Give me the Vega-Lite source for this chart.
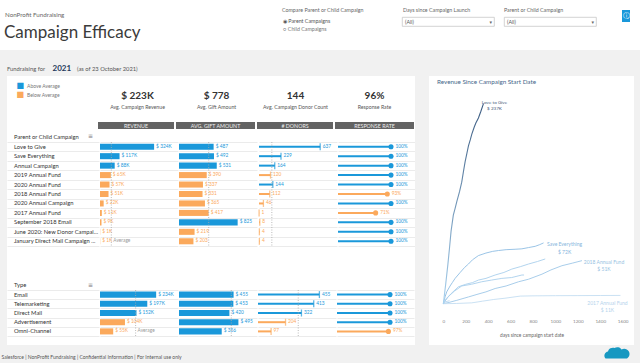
{
  "$schema": "https://vega.github.io/schema/vega-lite/v6.json",
  "background": "white",
  "padding": 0,
  "spacing": 0,
  "config": {
    "view": {"stroke": null},
    "font": "Lato",
    "concat": {"spacing": 0},
    "locale": {"number": {"decimal": ".", "thousands": ",", "grouping": [3], "currency": ["$ ", ""]}},
    "axis": {"labelFont": "Lato", "titleFont": "Lato"},
    "text": {"font": "Lato"}
  },
  "resolve": {"scale": {"x": "independent", "y": "independent"}},
  "datasets": {
    "campaigns": [
      {"name": "Love to Give", "revenue": 324, "rev_lbl": "$ 324K", "rev_s": "Above Average", "gift": 487, "gift_s": "Above Average", "donors": 637, "don_s": "Above Average", "rate": 1, "rate_s": "Above Average"},
      {"name": "Save Everything", "revenue": 117, "rev_lbl": "$ 117K", "rev_s": "Above Average", "gift": 492, "gift_s": "Above Average", "donors": 229, "don_s": "Above Average", "rate": 1, "rate_s": "Above Average"},
      {"name": "Annual Campaign", "revenue": 88, "rev_lbl": "$ 88K", "rev_s": "Above Average", "gift": 531, "gift_s": "Above Average", "donors": 164, "don_s": "Above Average", "rate": 1, "rate_s": "Above Average"},
      {"name": "2019 Annual Fund", "revenue": 65, "rev_lbl": "$ 65K", "rev_s": "Below Average", "gift": 390, "gift_s": "Below Average", "donors": 120, "don_s": "Below Average", "rate": 1, "rate_s": "Above Average"},
      {"name": "2020 Annual Fund", "revenue": 57, "rev_lbl": "$ 57K", "rev_s": "Below Average", "gift": 337, "gift_s": "Below Average", "donors": 144, "don_s": "Above Average", "rate": 1, "rate_s": "Above Average"},
      {"name": "2018 Annual Fund", "revenue": 51, "rev_lbl": "$ 51K", "rev_s": "Below Average", "gift": 331, "gift_s": "Below Average", "donors": 112, "don_s": "Below Average", "rate": 0.93, "rate_s": "Below Average"},
      {"name": "2020 Annual Campaign", "revenue": 22, "rev_lbl": "$ 22K", "rev_s": "Below Average", "gift": 365, "gift_s": "Below Average", "donors": 46, "don_s": "Below Average", "rate": 1, "rate_s": "Above Average"},
      {"name": "2017 Annual Fund", "revenue": 11, "rev_lbl": "$ 11K", "rev_s": "Below Average", "gift": 417, "gift_s": "Below Average", "donors": 1, "don_s": "Below Average", "rate": 0.71, "rate_s": "Below Average"},
      {"name": "September 2018 Email", "revenue": 9, "rev_lbl": "$ 9K", "rev_s": "Below Average", "gift": 825, "gift_s": "Above Average", "donors": 8, "don_s": "Below Average", "rate": 1, "rate_s": "Above Average"},
      {"name": "June 2020: New Donor Campaign", "revenue": 1, "rev_lbl": "$ 1K", "rev_s": "Below Average", "gift": 219, "gift_s": "Below Average", "donors": 4, "don_s": "Below Average", "rate": 1, "rate_s": "Above Average"},
      {"name": "January Direct Mail Campaign ...", "revenue": 1, "rev_lbl": "$ 1K", "rev_s": "Below Average", "gift": 203, "gift_s": "Below Average", "donors": 4, "don_s": "Below Average", "rate": 1, "rate_s": "Above Average"}
    ],
    "types": [
      {"name": "Email", "revenue": 234, "rev_lbl": "$ 234K", "rev_s": "Above Average", "gift": 455, "gift_s": "Above Average", "donors": 455, "don_s": "Above Average", "rate": 1, "rate_s": "Above Average"},
      {"name": "Telemarketing", "revenue": 197, "rev_lbl": "$ 197K", "rev_s": "Above Average", "gift": 453, "gift_s": "Above Average", "donors": 413, "don_s": "Above Average", "rate": 1, "rate_s": "Above Average"},
      {"name": "Direct Mail", "revenue": 152, "rev_lbl": "$ 152K", "rev_s": "Above Average", "gift": 420, "gift_s": "Above Average", "donors": 322, "don_s": "Above Average", "rate": 1, "rate_s": "Above Average"},
      {"name": "Advertisement", "revenue": 104, "rev_lbl": "$ 104K", "rev_s": "Below Average", "gift": 495, "gift_s": "Above Average", "donors": 204, "don_s": "Below Average", "rate": 1, "rate_s": "Above Average"},
      {"name": "Omni-Channel", "revenue": 55, "rev_lbl": "$ 55K", "rev_s": "Below Average", "gift": 356, "gift_s": "Above Average", "donors": 97, "don_s": "Below Average", "rate": 0.97, "rate_s": "Below Average"}
    ],
    "kpis": [
      {"kpi": "Avg. Campaign Revenue", "value": "$ 223K"},
      {"kpi": "Avg. Gift Amount", "value": "$ 778"},
      {"kpi": "Avg. Campaign Donor Count", "value": "144"},
      {"kpi": "Response Rate", "value": "96%"}
    ],
    "legend": [{"status": "Above Average"}, {"status": "Below Average"}],
    "curves": [
      {"campaign": "Love to Give", "days": 0, "rev": 0},
      {"campaign": "Love to Give", "days": 20, "rev": 22},
      {"campaign": "Love to Give", "days": 40, "rev": 46},
      {"campaign": "Love to Give", "days": 55, "rev": 66},
      {"campaign": "Love to Give", "days": 69, "rev": 86},
      {"campaign": "Love to Give", "days": 89, "rev": 105},
      {"campaign": "Love to Give", "days": 105, "rev": 113},
      {"campaign": "Love to Give", "days": 120, "rev": 121},
      {"campaign": "Love to Give", "days": 145, "rev": 133},
      {"campaign": "Love to Give", "days": 164, "rev": 144},
      {"campaign": "Love to Give", "days": 180, "rev": 157},
      {"campaign": "Love to Give", "days": 194, "rev": 168},
      {"campaign": "Love to Give", "days": 210, "rev": 178},
      {"campaign": "Love to Give", "days": 224, "rev": 187},
      {"campaign": "Love to Give", "days": 240, "rev": 194},
      {"campaign": "Love to Give", "days": 254, "rev": 201},
      {"campaign": "Love to Give", "days": 275, "rev": 209},
      {"campaign": "Love to Give", "days": 290, "rev": 214},
      {"campaign": "Love to Give", "days": 313, "rev": 220},
      {"campaign": "Love to Give", "days": 335, "rev": 228},
      {"campaign": "Love to Give", "days": 358, "rev": 237},
      {"campaign": "Save Everything", "days": 0, "rev": 0},
      {"campaign": "Save Everything", "days": 15, "rev": 8},
      {"campaign": "Save Everything", "days": 30, "rev": 14},
      {"campaign": "Save Everything", "days": 60, "rev": 21},
      {"campaign": "Save Everything", "days": 80, "rev": 25},
      {"campaign": "Save Everything", "days": 105, "rev": 30},
      {"campaign": "Save Everything", "days": 150, "rev": 37},
      {"campaign": "Save Everything", "days": 190, "rev": 43},
      {"campaign": "Save Everything", "days": 224, "rev": 47},
      {"campaign": "Save Everything", "days": 260, "rev": 52},
      {"campaign": "Save Everything", "days": 313, "rev": 57},
      {"campaign": "Save Everything", "days": 380, "rev": 60},
      {"campaign": "Save Everything", "days": 440, "rev": 62},
      {"campaign": "Save Everything", "days": 492, "rev": 63},
      {"campaign": "Save Everything", "days": 560, "rev": 64},
      {"campaign": "Save Everything", "days": 640, "rev": 64.5},
      {"campaign": "Save Everything", "days": 701, "rev": 65},
      {"campaign": "Save Everything", "days": 760, "rev": 66.5},
      {"campaign": "Save Everything", "days": 820, "rev": 68},
      {"campaign": "Save Everything", "days": 860, "rev": 70},
      {"campaign": "Save Everything", "days": 894, "rev": 72},
      {"campaign": "2020 Annual Fund", "days": 0, "rev": 0},
      {"campaign": "2020 Annual Fund", "days": 30, "rev": 6},
      {"campaign": "2020 Annual Fund", "days": 70, "rev": 12},
      {"campaign": "2020 Annual Fund", "days": 134, "rev": 20},
      {"campaign": "2020 Annual Fund", "days": 200, "rev": 23},
      {"campaign": "2020 Annual Fund", "days": 260, "rev": 25},
      {"campaign": "2020 Annual Fund", "days": 313, "rev": 28},
      {"campaign": "2020 Annual Fund", "days": 380, "rev": 30},
      {"campaign": "2020 Annual Fund", "days": 462, "rev": 34},
      {"campaign": "2020 Annual Fund", "days": 540, "rev": 37},
      {"campaign": "2020 Annual Fund", "days": 611, "rev": 41},
      {"campaign": "2020 Annual Fund", "days": 690, "rev": 44},
      {"campaign": "2020 Annual Fund", "days": 760, "rev": 47},
      {"campaign": "2020 Annual Fund", "days": 840, "rev": 50},
      {"campaign": "2020 Annual Fund", "days": 909, "rev": 53},
      {"campaign": "2020 Annual Campaign", "days": 0, "rev": 0},
      {"campaign": "2020 Annual Campaign", "days": 40, "rev": 8},
      {"campaign": "2020 Annual Campaign", "days": 100, "rev": 15},
      {"campaign": "2020 Annual Campaign", "days": 164, "rev": 21},
      {"campaign": "2020 Annual Campaign", "days": 250, "rev": 23},
      {"campaign": "2020 Annual Campaign", "days": 343, "rev": 26},
      {"campaign": "2020 Annual Campaign", "days": 430, "rev": 28},
      {"campaign": "2020 Annual Campaign", "days": 522, "rev": 30},
      {"campaign": "2020 Annual Campaign", "days": 610, "rev": 31},
      {"campaign": "2020 Annual Campaign", "days": 701, "rev": 34},
      {"campaign": "2020 Annual Campaign", "days": 720, "rev": 34},
      {"campaign": "2018 Annual Fund", "days": 0, "rev": 0},
      {"campaign": "2018 Annual Fund", "days": 50, "rev": 1.5},
      {"campaign": "2018 Annual Fund", "days": 120, "rev": 4},
      {"campaign": "2018 Annual Fund", "days": 224, "rev": 8},
      {"campaign": "2018 Annual Fund", "days": 300, "rev": 11},
      {"campaign": "2018 Annual Fund", "days": 380, "rev": 14},
      {"campaign": "2018 Annual Fund", "days": 462, "rev": 18},
      {"campaign": "2018 Annual Fund", "days": 560, "rev": 21},
      {"campaign": "2018 Annual Fund", "days": 671, "rev": 26},
      {"campaign": "2018 Annual Fund", "days": 760, "rev": 29},
      {"campaign": "2018 Annual Fund", "days": 880, "rev": 35},
      {"campaign": "2018 Annual Fund", "days": 960, "rev": 40},
      {"campaign": "2018 Annual Fund", "days": 1058, "rev": 45},
      {"campaign": "2018 Annual Fund", "days": 1150, "rev": 48},
      {"campaign": "2018 Annual Fund", "days": 1237, "rev": 51},
      {"campaign": "2017 Annual Fund", "days": 0, "rev": 0},
      {"campaign": "2017 Annual Fund", "days": 120, "rev": 0.3},
      {"campaign": "2017 Annual Fund", "days": 254, "rev": 1},
      {"campaign": "2017 Annual Fund", "days": 350, "rev": 3},
      {"campaign": "2017 Annual Fund", "days": 450, "rev": 5},
      {"campaign": "2017 Annual Fund", "days": 550, "rev": 6.5},
      {"campaign": "2017 Annual Fund", "days": 686, "rev": 9},
      {"campaign": "2017 Annual Fund", "days": 800, "rev": 9.3},
      {"campaign": "2017 Annual Fund", "days": 1000, "rev": 9.5},
      {"campaign": "2017 Annual Fund", "days": 1200, "rev": 9.6},
      {"campaign": "2017 Annual Fund", "days": 1400, "rev": 9.7},
      {"campaign": "2017 Annual Fund", "days": 1580, "rev": 9.8},
      {"campaign": "September 2018 Email", "days": 0, "rev": 0},
      {"campaign": "September 2018 Email", "days": 10, "rev": 4},
      {"campaign": "September 2018 Email", "days": 25, "rev": 6},
      {"campaign": "September 2018 Email", "days": 35, "rev": 7},
      {"campaign": "June 2020: New Donor Campaign", "days": 0, "rev": 0},
      {"campaign": "June 2020: New Donor Campaign", "days": 15, "rev": 2},
      {"campaign": "June 2020: New Donor Campaign", "days": 40, "rev": 3},
      {"campaign": "June 2020: New Donor Campaign", "days": 55, "rev": 3.5}
    ],
    "curve_labels": [
      {"campaign": "Love to Give", "days": 358, "rev": 237, "label": "Love to Give\n$ 237K"},
      {"campaign": "Save Everything", "days": 894, "rev": 72, "label": "Save Everything\n$ 72K"},
      {"campaign": "2018 Annual Fund", "days": 1237, "rev": 51, "label": "2018 Annual Fund\n$ 51K"},
      {"campaign": "2017 Annual Fund", "days": 1580, "rev": 9.8, "label": "2017 Annual Fund\n$ 11K"}
    ]
  },
  "vconcat": [
    {
      "hconcat": [
        {
          "width": 278, "height": 50,
          "data": {"values": [{"a": "NonProfit Fundraising", "b": "Campaign Efficacy"}]},
          "encoding": {"x": {"datum": 0, "type": "quantitative", "scale": {"domain": [0, 1], "nice": false}, "axis": null}},
          "layer": [
            {"mark": {"type": "text", "align": "left", "baseline": "middle", "dx": 5, "dy": -10, "fontSize": 6.2, "color": "#666"}, "encoding": {"text": {"field": "a", "type": "nominal"}}},
            {"mark": {"type": "text", "align": "left", "baseline": "middle", "dx": 4, "dy": 8, "fontSize": 17, "color": "#3b3b3b"}, "encoding": {"text": {"field": "b", "type": "nominal"}}}
          ]
        },
        {
          "width": 123, "height": 50,
          "data": {"values": [{"t": "Compare Parent or Child Campaign", "p": "◉  Parent Campaigns", "c": "○  Child Campaigns"}]},
          "encoding": {"x": {"datum": 0, "type": "quantitative", "scale": {"domain": [0, 1], "nice": false}, "axis": null}},
          "layer": [
            {"mark": {"type": "text", "align": "left", "baseline": "middle", "dx": 4, "dy": -15, "fontSize": 5.3, "color": "#666"}, "encoding": {"text": {"field": "t", "type": "nominal"}}},
            {"mark": {"type": "text", "align": "left", "baseline": "middle", "dx": 5, "dy": -4.3, "fontSize": 5.3, "color": "#555"}, "encoding": {"text": {"field": "p", "type": "nominal"}}},
            {"mark": {"type": "text", "align": "left", "baseline": "middle", "dx": 5, "dy": 4, "fontSize": 5.3, "color": "#777"}, "encoding": {"text": {"field": "c", "type": "nominal"}}}
          ]
        },
        {
          "vconcat": [
            {
              "width": 101, "height": 16,
              "data": {"values": [{"t": "Days since Campaign Launch"}]},
              "mark": {"type": "text", "align": "left", "baseline": "middle", "dx": 1, "dy": 2, "fontSize": 5.3, "color": "#666"},
              "encoding": {"x": {"datum": 0, "type": "quantitative", "scale": {"domain": [0, 1], "nice": false}, "axis": null}, "text": {"field": "t", "type": "nominal"}}
            },
            {
              "width": 92, "height": 9,
              "view": {"stroke": "#c8c8c8", "strokeWidth": 0.8},
              "data": {"values": [{"t": "(All)", "arrow": "▾"}]},
              "layer": [
                {"mark": {"type": "text", "align": "left", "baseline": "middle", "dx": 3, "fontSize": 5.3, "color": "#555"}, "encoding": {"x": {"datum": 0, "type": "quantitative", "scale": {"domain": [0, 1], "nice": false}, "axis": null}, "text": {"field": "t", "type": "nominal"}}},
                {"mark": {"type": "text", "align": "right", "baseline": "middle", "dx": -2, "fontSize": 5, "color": "#666", "font": "DejaVu Sans"}, "encoding": {"x": {"datum": 1, "type": "quantitative", "scale": {"domain": [0, 1], "nice": false}, "axis": null}, "text": {"field": "arrow", "type": "nominal"}}}
              ]
            }
          ],
          "spacing": 0
        },
        {
          "vconcat": [
            {
              "width": 118, "height": 16,
              "data": {"values": [{"t": "Parent or Child Campaign"}]},
              "mark": {"type": "text", "align": "left", "baseline": "middle", "dx": 0, "dy": 2, "fontSize": 5.3, "color": "#666"},
              "encoding": {"x": {"datum": 0, "type": "quantitative", "scale": {"domain": [0, 1], "nice": false}, "axis": null}, "text": {"field": "t", "type": "nominal"}}
            },
            {
              "width": 92, "height": 9,
              "view": {"stroke": "#c8c8c8", "strokeWidth": 0.8},
              "data": {"values": [{"t": "(All)", "arrow": "▾"}]},
              "layer": [
                {"mark": {"type": "text", "align": "left", "baseline": "middle", "dx": 3, "fontSize": 5.3, "color": "#555"}, "encoding": {"x": {"datum": 0, "type": "quantitative", "scale": {"domain": [0, 1], "nice": false}, "axis": null}, "text": {"field": "t", "type": "nominal"}}},
                {"mark": {"type": "text", "align": "right", "baseline": "middle", "dx": -2, "fontSize": 5, "color": "#666", "font": "DejaVu Sans"}, "encoding": {"x": {"datum": 1, "type": "quantitative", "scale": {"domain": [0, 1], "nice": false}, "axis": null}, "text": {"field": "arrow", "type": "nominal"}}}
              ]
            }
          ],
          "spacing": 0
        },
        {
          "vconcat": [
            {"width": 20, "height": 10, "data": {"values": [{}]}, "mark": {"type": "rect", "opacity": 0}, "encoding": {}},
            {
              "width": 8, "height": 12,
              "view": {"fill": "#1a98da"},
              "data": {"values": [{"i": "ⓘ"}]},
              "mark": {"type": "text", "baseline": "middle", "fontSize": 7, "color": "white", "font": "DejaVu Sans"},
              "encoding": {"text": {"field": "i", "type": "nominal"}}
            }
          ],
          "spacing": 0
        }
      ],
      "resolve": {"scale": {"x": "independent", "y": "independent"}}
    },
    {
      "width": 640, "height": 26,
      "view": {"fill": "#f1f1f1"},
      "data": {"values": [{"a": "Fundraising for", "b": "2021", "c": "(as of 23 October 2021)"}]},
      "encoding": {"x": {"datum": 0, "type": "quantitative", "scale": {"domain": [0, 1], "nice": false}, "axis": null}},
      "layer": [
        {"mark": {"type": "text", "align": "left", "baseline": "middle", "dx": 7, "dy": 5.7, "fontSize": 5.8, "color": "#555"}, "encoding": {"text": {"field": "a", "type": "nominal"}}},
        {"mark": {"type": "text", "align": "left", "baseline": "middle", "dx": 52.5, "dy": 5.5, "fontSize": 8, "fontWeight": "bold", "color": "#23395b"}, "encoding": {"text": {"field": "b", "type": "nominal"}}},
        {"mark": {"type": "text", "align": "left", "baseline": "middle", "dx": 77, "dy": 5.7, "fontSize": 5.8, "color": "#555"}, "encoding": {"text": {"field": "c", "type": "nominal"}}}
      ]
    },
    {
      "hconcat": [
        {"width": 7, "height": 269, "view": {"fill": "#f1f1f1"}, "data": {"values": [{}]}, "mark": {"type": "rect", "opacity": 0}, "encoding": {}},
        {
          "vconcat": [
            {
              "hconcat": [
                {
                  "width": 89, "height": 45.5,
                  "data": {"name": "legend"},
                  "encoding": {"x": {"datum": 0, "type": "quantitative", "scale": {"domain": [0, 1], "nice": false}, "axis": null}},
                  "layer": [
                    {"transform": [{"filter": "datum.status === 'Above Average'"}], "mark": {"type": "text", "text": "■", "align": "left", "baseline": "middle", "dx": 9.5, "dy": -13.25, "fontSize": 8.2, "font": "DejaVu Sans"}, "encoding": {"color": {"field": "status", "type": "nominal", "scale": {"domain": ["Above Average", "Below Average"], "range": ["#1a98da", "#fba95c"]}, "legend": null}}},
                    {"transform": [{"filter": "datum.status === 'Above Average'"}], "mark": {"type": "text", "align": "left", "baseline": "middle", "dx": 20, "dy": -13.25, "fontSize": 5, "color": "#777"}, "encoding": {"text": {"field": "status", "type": "nominal"}}},
                    {"transform": [{"filter": "datum.status === 'Below Average'"}], "mark": {"type": "text", "text": "■", "align": "left", "baseline": "middle", "dx": 9.5, "dy": -4.25, "fontSize": 8.2, "font": "DejaVu Sans"}, "encoding": {"color": {"field": "status", "type": "nominal", "scale": {"domain": ["Above Average", "Below Average"], "range": ["#1a98da", "#fba95c"]}, "legend": null}}},
                    {"transform": [{"filter": "datum.status === 'Below Average'"}], "mark": {"type": "text", "align": "left", "baseline": "middle", "dx": 20, "dy": -4.25, "fontSize": 5, "color": "#777"}, "encoding": {"text": {"field": "status", "type": "nominal"}}}
                  ]
                },
                {
                  "width": 316, "height": 45.5,
                  "data": {"name": "kpis"},
                  "encoding": {"x": {"field": "kpi", "type": "nominal", "sort": null, "scale": {"type": "point", "padding": 0.5}, "axis": null}},
                  "layer": [
                    {"mark": {"type": "text", "baseline": "middle", "dy": -3.25, "fontSize": 10, "fontWeight": "bold", "color": "#333"}, "encoding": {"text": {"field": "value", "type": "nominal"}}},
                    {"mark": {"type": "text", "baseline": "middle", "dy": 8.5, "fontSize": 5.2, "color": "#555"}, "encoding": {"text": {"field": "kpi", "type": "nominal"}}}
                  ]
                }
              ],
              "spacing": 2,
              "resolve": {"scale": {"x": "independent", "y": "independent"}}
            },
            {
              "hconcat": [
                {"width": 89, "height": 7, "data": {"values": [{}]}, "mark": {"type": "rect", "opacity": 0}, "encoding": {}},
                {"width": 76, "height": 7, "view": {"fill": "#636363"}, "data": {"values": [{"h": "REVENUE"}]}, "mark": {"type": "text", "baseline": "middle", "fontSize": 5.3, "color": "#eeeeee"}, "encoding": {"text": {"field": "h", "type": "nominal"}}},
                {"width": 79, "height": 7, "view": {"fill": "#636363"}, "data": {"values": [{"h": "AVG. GIFT AMOUNT"}]}, "mark": {"type": "text", "baseline": "middle", "fontSize": 5.3, "color": "#eeeeee"}, "encoding": {"text": {"field": "h", "type": "nominal"}}},
                {"width": 76, "height": 7, "view": {"fill": "#636363"}, "data": {"values": [{"h": "# DONORS"}]}, "mark": {"type": "text", "baseline": "middle", "fontSize": 5.3, "color": "#eeeeee"}, "encoding": {"text": {"field": "h", "type": "nominal"}}},
                {"width": 79, "height": 7, "view": {"fill": "#636363"}, "data": {"values": [{"h": "RESPONSE RATE"}]}, "mark": {"type": "text", "baseline": "middle", "fontSize": 5.3, "color": "#eeeeee"}, "encoding": {"text": {"field": "h", "type": "nominal"}}}
              ],
              "spacing": 2
            },
            {
              "width": 407, "height": 11.8,
              "data": {"values": [{"h": "Parent or Child Campaign", "icon": "≡"}]},
              "encoding": {"x": {"datum": 0, "type": "quantitative", "scale": {"domain": [0, 1], "nice": false}, "axis": null}},
              "layer": [
                {"mark": {"type": "text", "align": "left", "baseline": "middle", "dx": 7, "dy": 1.6, "fontSize": 5.8, "color": "#333"}, "encoding": {"text": {"field": "h", "type": "nominal"}}},
                {"mark": {"type": "text", "align": "left", "baseline": "middle", "dx": 81, "dy": 1.2, "fontSize": 6, "color": "#777", "font": "DejaVu Sans"}, "encoding": {"text": {"field": "icon", "type": "nominal"}}}
              ]
            },
            {
              "hconcat": [
                {
                  "width": 92, "height": 104,
                  "data": {"name": "campaigns"},
                  "encoding": {
                    "y": {"field": "name", "type": "nominal", "sort": null, "scale": {"type": "band", "paddingInner": 0, "paddingOuter": 0},
                          "axis": {"title": null, "domain": false, "ticks": false, "labels": false, "grid": true, "gridColor": "#e6e6e6", "gridWidth": 0.8, "tickBand": "extent", "minExtent": 0, "maxExtent": 0}}
                  },
                  "layer": [
                    {"mark": {"type": "text", "align": "left", "baseline": "middle", "dx": 7, "fontSize": 5.8, "color": "#333", "limit": 86},
                     "encoding": {"x": {"datum": 0, "type": "quantitative", "scale": {"domain": [0, 1], "nice": false}, "axis": null}, "text": {"field": "name", "type": "nominal"}}}
                  ]
                },
                {
                  "width": 78, "height": 104,
                  "data": {"name": "campaigns"},
                  "encoding": {
                    "y": {"field": "name", "type": "nominal", "sort": null, "scale": {"type": "band", "paddingInner": 0, "paddingOuter": 0},
                          "axis": {"title": null, "domain": false, "ticks": false, "labels": false, "grid": true, "gridColor": "#e6e6e6", "gridWidth": 0.8, "tickBand": "extent", "minExtent": 0, "maxExtent": 0}}
                  },
                  "layer": [
                    {"mark": {"type": "bar", "height": {"band": 0.64}},
                     "encoding": {
                       "x": {"field": "revenue", "type": "quantitative", "scale": {"domain": [0, 467], "nice": false}, "axis": null},
                       "color": {"field": "rev_s", "type": "nominal", "scale": {"domain": ["Above Average", "Below Average"], "range": ["#1a98da", "#fba95c"]}, "legend": null}}},
                    {"mark": {"type": "text", "align": "left", "baseline": "middle", "dx": 2, "fontSize": 4.8},
                     "encoding": {"x": {"field": "revenue", "type": "quantitative", "scale": {"domain": [0, 467], "nice": false}, "axis": null}, "text": {"field": "rev_lbl", "type": "nominal"}, "color": {"field": "rev_s", "type": "nominal", "legend": null}}},
                    {"transform": [{"aggregate": [{"op": "mean", "field": "revenue", "as": "avg_rev_c"}]}],
                     "mark": {"type": "rule", "color": "#aaaaaa", "strokeDash": [1, 1.5], "strokeWidth": 0.8},
                     "encoding": {"x": {"field": "avg_rev_c", "type": "quantitative", "scale": {"domain": [0, 467], "nice": false}, "axis": null}, "y": null}},
                    {"transform": [{"aggregate": [{"op": "mean", "field": "revenue", "as": "avg_rev_c"}]}],
                     "mark": {"type": "text", "text": "Average", "align": "left", "baseline": "middle", "dx": 2, "fontSize": 4.8, "color": "#999"},
                     "encoding": {"x": {"field": "avg_rev_c", "type": "quantitative", "scale": {"domain": [0, 467], "nice": false}, "axis": null}, "y": {"datum": "January Direct Mail Campaign ...", "type": "nominal"}}}
                  ]
                },
                {
                  "width": 78, "height": 104,
                  "data": {"name": "campaigns"},
                  "encoding": {
                    "y": {"field": "name", "type": "nominal", "sort": null, "scale": {"type": "band", "paddingInner": 0, "paddingOuter": 0},
                          "axis": {"title": null, "domain": false, "ticks": false, "labels": false, "grid": true, "gridColor": "#e6e6e6", "gridWidth": 0.8, "tickBand": "extent", "minExtent": 0, "maxExtent": 0}}
                  },
                  "layer": [
                    {"mark": {"type": "bar", "height": {"band": 0.64}},
                     "encoding": {
                       "x": {"field": "gift", "type": "quantitative", "scale": {"domain": [0, 1097], "nice": false}, "axis": null},
                       "color": {"field": "gift_s", "type": "nominal", "scale": {"domain": ["Above Average", "Below Average"], "range": ["#1a98da", "#fba95c"]}, "legend": null}}},
                    {"mark": {"type": "text", "align": "left", "baseline": "middle", "dx": 2, "fontSize": 4.8},
                     "encoding": {"x": {"field": "gift", "type": "quantitative", "scale": {"domain": [0, 1097], "nice": false}, "axis": null}, "text": {"field": "gift", "type": "quantitative", "format": "$d"}, "color": {"field": "gift_s", "type": "nominal", "legend": null}}},
                    {"transform": [{"aggregate": [{"op": "mean", "field": "gift", "as": "avg_gift_c"}]}],
                     "mark": {"type": "rule", "color": "#aaaaaa", "strokeDash": [1, 1.5], "strokeWidth": 0.8},
                     "encoding": {"x": {"field": "avg_gift_c", "type": "quantitative", "scale": {"domain": [0, 1097], "nice": false}, "axis": null}, "y": null}}
                  ]
                },
                {
                  "width": 78, "height": 104,
                  "data": {"name": "campaigns"},
                  "encoding": {
                    "y": {"field": "name", "type": "nominal", "sort": null, "scale": {"type": "band", "paddingInner": 0, "paddingOuter": 0},
                          "axis": {"title": null, "domain": false, "ticks": false, "labels": false, "grid": true, "gridColor": "#e6e6e6", "gridWidth": 0.8, "tickBand": "extent", "minExtent": 0, "maxExtent": 0}}
                  },
                  "layer": [
                    {"mark": {"type": "bar", "height": 2},
                     "encoding": {
                       "x": {"field": "donors", "type": "quantitative", "scale": {"domain": [0, 812], "nice": false}, "axis": null},
                       "color": {"field": "don_s", "type": "nominal", "scale": {"domain": ["Above Average", "Below Average"], "range": ["#1a98da", "#fba95c"]}, "legend": null}}},
                    {"mark": {"type": "tick", "thickness": 1.3, "size": 7},
                     "encoding": {"x": {"field": "donors", "type": "quantitative", "scale": {"domain": [0, 812], "nice": false}, "axis": null}, "color": {"field": "don_s", "type": "nominal", "legend": null}}},
                    {"mark": {"type": "text", "align": "left", "baseline": "middle", "dx": 2.5, "fontSize": 4.8},
                     "encoding": {"x": {"field": "donors", "type": "quantitative", "scale": {"domain": [0, 812], "nice": false}, "axis": null}, "text": {"field": "donors", "type": "quantitative", "format": "d"}, "color": {"field": "don_s", "type": "nominal", "legend": null}}},
                    {"transform": [{"aggregate": [{"op": "mean", "field": "donors", "as": "avg_don_c"}]}],
                     "mark": {"type": "rule", "color": "#aaaaaa", "strokeDash": [1, 1.5], "strokeWidth": 0.8},
                     "encoding": {"x": {"field": "avg_don_c", "type": "quantitative", "scale": {"domain": [0, 812], "nice": false}, "axis": null}, "y": null}}
                  ]
                },
                {
                  "width": 77, "height": 104,
                  "data": {"name": "campaigns"},
                  "encoding": {
                    "y": {"field": "name", "type": "nominal", "sort": null, "scale": {"type": "band", "paddingInner": 0, "paddingOuter": 0},
                          "axis": {"title": null, "domain": false, "ticks": false, "labels": false, "grid": true, "gridColor": "#e6e6e6", "gridWidth": 0.8, "tickBand": "extent", "minExtent": 0, "maxExtent": 0}}
                  },
                  "layer": [
                    {"mark": {"type": "bar", "height": 2},
                     "encoding": {
                       "x": {"field": "rate", "type": "quantitative", "scale": {"domain": [0, 1.4528], "nice": false}, "axis": null},
                       "color": {"field": "rate_s", "type": "nominal", "scale": {"domain": ["Above Average", "Below Average"], "range": ["#1a98da", "#fba95c"]}, "legend": null}}},
                    {"mark": {"type": "circle", "size": 26, "opacity": 1},
                     "encoding": {"x": {"field": "rate", "type": "quantitative", "scale": {"domain": [0, 1.4528], "nice": false}, "axis": null}, "color": {"field": "rate_s", "type": "nominal", "legend": null}}},
                    {"mark": {"type": "text", "align": "left", "baseline": "middle", "dx": 4.5, "fontSize": 4.8},
                     "encoding": {"x": {"field": "rate", "type": "quantitative", "scale": {"domain": [0, 1.4528], "nice": false}, "axis": null}, "text": {"field": "rate", "type": "quantitative", "format": ".0%"}, "color": {"field": "rate_s", "type": "nominal", "legend": null}}}
                  ]
                }
              ],
              "spacing": 1,
              "resolve": {"scale": {"x": "independent", "y": "independent"}}
            },
            {
              "width": 407, "height": 41.8,
              "data": {"values": [{"h": "Type", "icon": "≡"}]},
              "encoding": {"x": {"datum": 0, "type": "quantitative", "scale": {"domain": [0, 1], "nice": false}, "axis": null}},
              "layer": [
                {"mark": {"type": "text", "align": "left", "baseline": "middle", "dx": 7, "dy": 17.5, "fontSize": 5.8, "color": "#333"}, "encoding": {"text": {"field": "h", "type": "nominal"}}},
                {"mark": {"type": "text", "align": "left", "baseline": "middle", "dx": 81, "dy": 17.1, "fontSize": 6, "color": "#777", "font": "DejaVu Sans"}, "encoding": {"text": {"field": "icon", "type": "nominal"}}}
              ]
            },
            {
              "hconcat": [
                {
                  "width": 92, "height": 46,
                  "data": {"name": "types"},
                  "encoding": {
                    "y": {"field": "name", "type": "nominal", "sort": null, "scale": {"type": "band", "paddingInner": 0, "paddingOuter": 0},
                          "axis": {"title": null, "domain": false, "ticks": false, "labels": false, "grid": true, "gridColor": "#e6e6e6", "gridWidth": 0.8, "tickBand": "extent", "minExtent": 0, "maxExtent": 0}}
                  },
                  "layer": [
                    {"mark": {"type": "text", "align": "left", "baseline": "middle", "dx": 7, "fontSize": 5.8, "color": "#333", "limit": 86},
                     "encoding": {"x": {"datum": 0, "type": "quantitative", "scale": {"domain": [0, 1], "nice": false}, "axis": null}, "text": {"field": "name", "type": "nominal"}}}
                  ]
                },
                {
                  "width": 78, "height": 46,
                  "data": {"name": "types"},
                  "encoding": {
                    "y": {"field": "name", "type": "nominal", "sort": null, "scale": {"type": "band", "paddingInner": 0, "paddingOuter": 0},
                          "axis": {"title": null, "domain": false, "ticks": false, "labels": false, "grid": true, "gridColor": "#e6e6e6", "gridWidth": 0.8, "tickBand": "extent", "minExtent": 0, "maxExtent": 0}}
                  },
                  "layer": [
                    {"mark": {"type": "bar", "height": {"band": 0.66}},
                     "encoding": {
                       "x": {"field": "revenue", "type": "quantitative", "scale": {"domain": [0, 325], "nice": false}, "axis": null},
                       "color": {"field": "rev_s", "type": "nominal", "scale": {"domain": ["Above Average", "Below Average"], "range": ["#1a98da", "#fba95c"]}, "legend": null}}},
                    {"mark": {"type": "text", "align": "left", "baseline": "middle", "dx": 2, "fontSize": 4.8},
                     "encoding": {"x": {"field": "revenue", "type": "quantitative", "scale": {"domain": [0, 325], "nice": false}, "axis": null}, "text": {"field": "rev_lbl", "type": "nominal"}, "color": {"field": "rev_s", "type": "nominal", "legend": null}}},
                    {"transform": [{"aggregate": [{"op": "mean", "field": "revenue", "as": "avg_rev_t"}]}],
                     "mark": {"type": "rule", "color": "#aaaaaa", "strokeDash": [1, 1.5], "strokeWidth": 0.8},
                     "encoding": {"x": {"field": "avg_rev_t", "type": "quantitative", "scale": {"domain": [0, 325], "nice": false}, "axis": null}, "y": null}},
                    {"transform": [{"aggregate": [{"op": "mean", "field": "revenue", "as": "avg_rev_t"}]}],
                     "mark": {"type": "text", "text": "Average", "align": "left", "baseline": "middle", "dx": 2, "fontSize": 4.8, "color": "#999"},
                     "encoding": {"x": {"field": "avg_rev_t", "type": "quantitative", "scale": {"domain": [0, 325], "nice": false}, "axis": null}, "y": {"datum": "Omni-Channel", "type": "nominal"}}}
                  ]
                },
                {
                  "width": 78, "height": 46,
                  "data": {"name": "types"},
                  "encoding": {
                    "y": {"field": "name", "type": "nominal", "sort": null, "scale": {"type": "band", "paddingInner": 0, "paddingOuter": 0},
                          "axis": {"title": null, "domain": false, "ticks": false, "labels": false, "grid": true, "gridColor": "#e6e6e6", "gridWidth": 0.8, "tickBand": "extent", "minExtent": 0, "maxExtent": 0}}
                  },
                  "layer": [
                    {"mark": {"type": "bar", "height": {"band": 0.66}},
                     "encoding": {
                       "x": {"field": "gift", "type": "quantitative", "scale": {"domain": [0, 650], "nice": false}, "axis": null},
                       "color": {"field": "gift_s", "type": "nominal", "scale": {"domain": ["Above Average", "Below Average"], "range": ["#1a98da", "#fba95c"]}, "legend": null}}},
                    {"mark": {"type": "text", "align": "left", "baseline": "middle", "dx": 2, "fontSize": 4.8},
                     "encoding": {"x": {"field": "gift", "type": "quantitative", "scale": {"domain": [0, 650], "nice": false}, "axis": null}, "text": {"field": "gift", "type": "quantitative", "format": "$d"}, "color": {"field": "gift_s", "type": "nominal", "legend": null}}},
                    {"transform": [{"aggregate": [{"op": "mean", "field": "gift", "as": "avg_gift_t"}]}],
                     "mark": {"type": "rule", "color": "#aaaaaa", "strokeDash": [1, 1.5], "strokeWidth": 0.8},
                     "encoding": {"x": {"field": "avg_gift_t", "type": "quantitative", "scale": {"domain": [0, 650], "nice": false}, "axis": null}, "y": null}}
                  ]
                },
                {
                  "width": 78, "height": 46,
                  "data": {"name": "types"},
                  "encoding": {
                    "y": {"field": "name", "type": "nominal", "sort": null, "scale": {"type": "band", "paddingInner": 0, "paddingOuter": 0},
                          "axis": {"title": null, "domain": false, "ticks": false, "labels": false, "grid": true, "gridColor": "#e6e6e6", "gridWidth": 0.8, "tickBand": "extent", "minExtent": 0, "maxExtent": 0}}
                  },
                  "layer": [
                    {"mark": {"type": "bar", "height": 2},
                     "encoding": {
                       "x": {"field": "donors", "type": "quantitative", "scale": {"domain": [0, 578], "nice": false}, "axis": null},
                       "color": {"field": "don_s", "type": "nominal", "scale": {"domain": ["Above Average", "Below Average"], "range": ["#1a98da", "#fba95c"]}, "legend": null}}},
                    {"mark": {"type": "tick", "thickness": 1.3, "size": 7},
                     "encoding": {"x": {"field": "donors", "type": "quantitative", "scale": {"domain": [0, 578], "nice": false}, "axis": null}, "color": {"field": "don_s", "type": "nominal", "legend": null}}},
                    {"mark": {"type": "text", "align": "left", "baseline": "middle", "dx": 2.5, "fontSize": 4.8},
                     "encoding": {"x": {"field": "donors", "type": "quantitative", "scale": {"domain": [0, 578], "nice": false}, "axis": null}, "text": {"field": "donors", "type": "quantitative", "format": "d"}, "color": {"field": "don_s", "type": "nominal", "legend": null}}},
                    {"transform": [{"aggregate": [{"op": "mean", "field": "donors", "as": "avg_don_t"}]}],
                     "mark": {"type": "rule", "color": "#aaaaaa", "strokeDash": [1, 1.5], "strokeWidth": 0.8},
                     "encoding": {"x": {"field": "avg_don_t", "type": "quantitative", "scale": {"domain": [0, 578], "nice": false}, "axis": null}, "y": null}}
                  ]
                },
                {
                  "width": 77, "height": 46,
                  "data": {"name": "types"},
                  "encoding": {
                    "y": {"field": "name", "type": "nominal", "sort": null, "scale": {"type": "band", "paddingInner": 0, "paddingOuter": 0},
                          "axis": {"title": null, "domain": false, "ticks": false, "labels": false, "grid": true, "gridColor": "#e6e6e6", "gridWidth": 0.8, "tickBand": "extent", "minExtent": 0, "maxExtent": 0}}
                  },
                  "layer": [
                    {"mark": {"type": "bar", "height": 2},
                     "encoding": {
                       "x": {"field": "rate", "type": "quantitative", "scale": {"domain": [0, 1.4528], "nice": false}, "axis": null},
                       "color": {"field": "rate_s", "type": "nominal", "scale": {"domain": ["Above Average", "Below Average"], "range": ["#1a98da", "#fba95c"]}, "legend": null}}},
                    {"mark": {"type": "circle", "size": 26, "opacity": 1},
                     "encoding": {"x": {"field": "rate", "type": "quantitative", "scale": {"domain": [0, 1.4528], "nice": false}, "axis": null}, "color": {"field": "rate_s", "type": "nominal", "legend": null}}},
                    {"mark": {"type": "text", "align": "left", "baseline": "middle", "dx": 4.5, "fontSize": 4.8},
                     "encoding": {"x": {"field": "rate", "type": "quantitative", "scale": {"domain": [0, 1.4528], "nice": false}, "axis": null}, "text": {"field": "rate", "type": "quantitative", "format": ".0%"}, "color": {"field": "rate_s", "type": "nominal", "legend": null}}}
                  ]
                }
              ],
              "spacing": 1,
              "resolve": {"scale": {"x": "independent", "y": "independent"}}
            }
          ],
          "spacing": 0,
          "resolve": {"scale": {"x": "independent", "y": "independent"}}
        },
        {"width": 14, "height": 269, "view": {"fill": "#f1f1f1"}, "data": {"values": [{}]}, "mark": {"type": "rect", "opacity": 0}, "encoding": {}},
        {
          "vconcat": [
            {
              "width": 205, "height": 21.6,
              "data": {"values": [{"t": "Revenue Since Campaign Start Date"}]},
              "mark": {"type": "text", "align": "left", "baseline": "middle", "dx": 8, "dy": -4.5, "fontSize": 6.3, "color": "#45678a"},
              "encoding": {"x": {"datum": 0, "type": "quantitative", "scale": {"domain": [0, 1], "nice": false}, "axis": null}, "text": {"field": "t", "type": "nominal"}}
            },
            {
              "width": 205, "height": 205.7,
              "data": {"name": "curves"},
              "encoding": {
                "x": {"field": "days", "type": "quantitative", "scale": {"domain": [-128, 1701], "nice": false, "zero": false},
                      "axis": {"values": [0, 200, 400, 600, 800, 1000, 1200, 1400, 1600], "format": "d", "title": "days since campaign start date", "grid": false, "ticks": false, "domain": false, "labelFontSize": 4.6, "labelColor": "#888", "labelPadding": 0, "labelFlush": false, "offset": 15, "titleFontSize": 4.8, "titleColor": "#666", "titleFontWeight": "normal", "titlePadding": 9}},
                "y": {"field": "rev", "type": "quantitative", "scale": {"domain": [0, 243.7], "nice": false}, "axis": null}
              },
              "layer": [
                {"transform": [{"filter": "datum.campaign !== 'Love to Give'"}],
                 "mark": {"type": "line", "strokeWidth": 0.9},
                 "encoding": {"stroke": {"field": "campaign", "type": "nominal",
                   "scale": {"domain": ["Save Everything", "2020 Annual Fund", "2020 Annual Campaign", "2018 Annual Fund", "2017 Annual Fund", "September 2018 Email", "June 2020: New Donor Campaign"],
                             "range": ["#8fbde3", "#a9cfec", "#a9cfec", "#9ec7e8", "#c4def2", "#b5d5ef", "#b5d5ef"]}, "legend": null}}},
                {"transform": [{"filter": "datum.campaign === 'Love to Give'"}],
                 "mark": {"type": "line", "strokeWidth": 1.1, "stroke": {"gradient": "linear", "x1": 0, "y1": 1, "x2": 0, "y2": 0, "stops": [{"offset": 0, "color": "#a9d2ef"}, {"offset": 1, "color": "#3a5a80"}]}},
                 "encoding": {}},
                {"data": {"name": "curve_labels"}, "transform": [{"filter": "datum.campaign === 'Love to Give'"}],
                 "mark": {"type": "text", "lineBreak": "\n", "align": "center", "baseline": "middle", "dx": 11, "dy": -1, "fontSize": 4.6, "lineHeight": 6, "color": "#3f5878"},
                 "encoding": {"text": {"field": "label", "type": "nominal"}}},
                {"data": {"name": "curve_labels"}, "transform": [{"filter": "datum.campaign === 'Save Everything'"}],
                 "mark": {"type": "text", "lineBreak": "\n", "align": "center", "baseline": "middle", "dx": 21, "dy": 1, "fontSize": 5, "lineHeight": 8, "color": "#86b5dc"},
                 "encoding": {"text": {"field": "label", "type": "nominal"}}},
                {"data": {"name": "curve_labels"}, "transform": [{"filter": "datum.campaign === '2018 Annual Fund'"}],
                 "mark": {"type": "text", "lineBreak": "\n", "align": "center", "baseline": "middle", "dx": 22, "dy": 1, "fontSize": 5, "lineHeight": 7, "color": "#97bfe2"},
                 "encoding": {"text": {"field": "label", "type": "nominal"}}},
                {"data": {"name": "curve_labels"}, "transform": [{"filter": "datum.campaign === '2017 Annual Fund'"}],
                 "mark": {"type": "text", "lineBreak": "\n", "align": "center", "baseline": "middle", "dx": -13, "dy": 8, "fontSize": 5, "lineHeight": 7, "color": "#b5d3ec"},
                 "encoding": {"text": {"field": "label", "type": "nominal"}}}
              ]
            }
          ],
          "spacing": 0,
          "resolve": {"scale": {"x": "independent", "y": "independent"}}
        },
        {"width": 7, "height": 269, "view": {"fill": "#f1f1f1"}, "data": {"values": [{}]}, "mark": {"type": "rect", "opacity": 0}, "encoding": {}}
      ],
      "spacing": 0,
      "resolve": {"scale": {"x": "independent", "y": "independent"}}
    },
    {
      "width": 640, "height": 18,
      "view": {"fill": "#f1f1f1"},
      "data": {"values": [{"t": "Salesforce | NonProfit Fundraising | Confidential Information | For Internal use only"}]},
      "encoding": {"x": {"datum": 0, "type": "quantitative", "scale": {"domain": [0, 1], "nice": false}, "axis": null}},
      "layer": [
        {"mark": {"type": "text", "align": "left", "baseline": "middle", "dx": 1.5, "dy": 3.3, "fontSize": 5, "color": "#555"},
         "encoding": {"text": {"field": "t", "type": "nominal"}}},
        {"mark": {"type": "point", "filled": true, "opacity": 1, "color": "#1798c1", "size": 400,
                  "shape": "M -3.45 0.45 A 0.42 0.42 0 0 1 -3.2 -0.25 A 0.5 0.5 0 0 1 -2.55 -0.6 A 0.5 0.5 0 0 1 -1.85 -0.45 A 0.45 0.45 0 0 1 -1.3 0.45 Z"},
         "encoding": {"x": {"datum": 1, "type": "quantitative"}}}
      ]
    }
  ]
}
